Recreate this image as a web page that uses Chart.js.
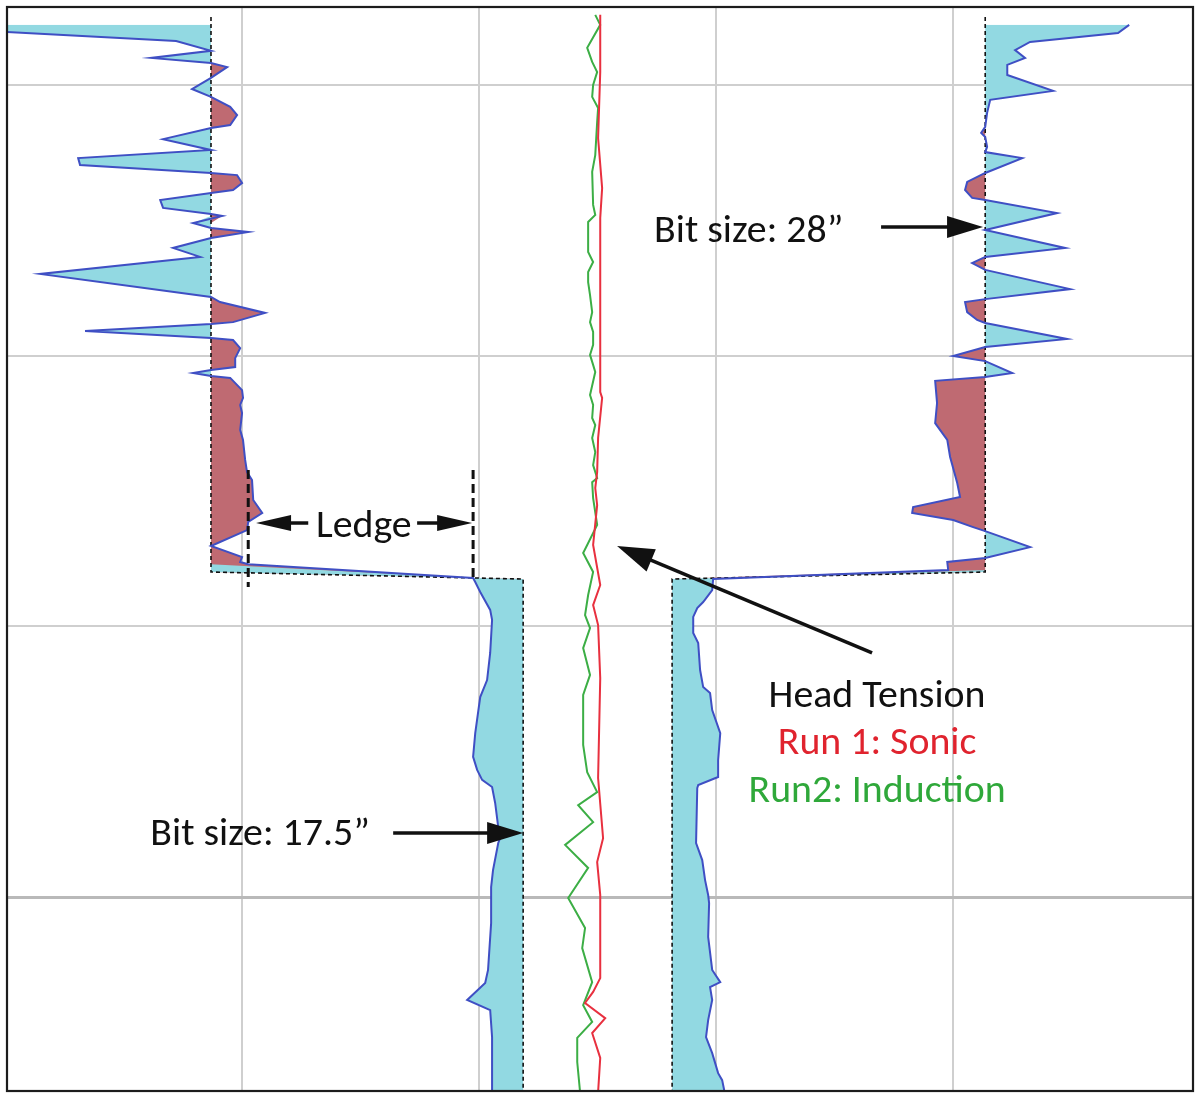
<!DOCTYPE html>
<html>
<head>
<meta charset="utf-8">
<script src="https://cdn.jsdelivr.net/npm/chart.js@4.4.1/dist/chart.umd.min.js"></script>
<style>
html,body{margin:0;padding:0;background:#ffffff;}
canvas{display:block;}
</style>
</head>
<body>
<canvas id="chart" width="1200" height="1099"></canvas>
<script>
// ---------------- DATA ----------------
// Depth (ft, increasing downwards) and caliper arm positions (track units, hole axis = 0)
const bitDepth = [974.9, 1179.9, 1182.5, 1374.9];
const bitLeft  = [-16.30, -16.30, -3.14, -3.14];   // 28" section then 17.5" section
const bitRight = [16.34, 16.34, 3.14, 3.14];

const leftDepth = [977.8, 983.8, 987.4, 990.0, 991.9, 993.4, 997.4, 1001.5, 1004.4, 1008.1,
  1011.1, 1014.8, 1015.9, 1020.0, 1024.0, 1027.0, 1029.6, 1032.5, 1033.3, 1036.2,
  1038.8, 1039.9, 1042.5, 1045.4, 1047.7, 1048.4, 1051.0, 1052.8, 1054.3, 1056.5,
  1060.2, 1063.5, 1069.8, 1078.3, 1080.2, 1084.2, 1087.6, 1088.3, 1090.9, 1093.5,
  1094.2, 1097.2, 1100.9, 1104.2, 1105.3, 1106.4, 1107.5, 1108.2, 1112.7, 1115.6,
  1118.2, 1121.2, 1127.4, 1131.1, 1138.5, 1143.0, 1145.9, 1153.3, 1158.1, 1161.4,
  1164.4, 1170.3, 1174.4, 1176.2, 1177.0, 1182.1, 1183.6, 1187.3, 1193.9, 1197.6,
  1209.8, 1219.8, 1226.1, 1239.4, 1248.2, 1253.0, 1256.7, 1259.3, 1265.2, 1274.1,
  1276.3, 1280.0, 1290.0, 1296.3, 1309.6, 1326.9, 1331.7, 1338.0, 1341.7, 1351.7,
  1363.9, 1374.9];
const leftCal = [-30.42, -17.77, -16.30, -18.82, -16.30, -15.62, -16.30, -17.10, -16.30, -15.49,
  -15.20, -15.49, -16.30, -18.32, -16.30, -21.90, -21.82, -16.30, -15.20, -14.99,
  -15.37, -16.30, -18.44, -18.32, -16.30, -15.83, -17.05, -16.30, -14.73, -16.30,
  -17.90, -16.76, -23.50, -16.30, -15.92, -14.02, -15.37, -16.30, -21.61, -16.30,
  -15.37, -15.07, -15.28, -15.28, -16.30, -17.05, -16.30, -15.49, -14.99, -14.95,
  -15.07, -14.99, -15.07, -14.95, -14.86, -14.78, -14.57, -14.52, -14.14, -14.73,
  -14.78, -16.30, -14.99, -15.07, -14.73, -5.25, -5.16, -4.95, -4.53, -4.45,
  -4.53, -4.66, -4.95, -5.16, -5.25, -5.08, -4.87, -4.45, -4.32, -4.19,
  -4.03, -4.19, -4.41, -4.49, -4.49, -4.62, -4.74, -5.50, -4.53, -4.45,
  -4.45, -4.45];

const rightDepth = [977.8, 980.8, 984.1, 987.1, 990.0, 992.6, 996.3, 1002.2, 1005.5, 1010.3,
  1015.5, 1017.7, 1019.2, 1022.9, 1024.8, 1027.0, 1032.5, 1035.8, 1038.8, 1041.7,
  1042.5, 1047.3, 1053.6, 1060.2, 1063.5, 1065.8, 1068.3, 1075.4, 1079.1, 1080.2,
  1083.9, 1086.8, 1087.9, 1093.8, 1096.8, 1100.1, 1102.0, 1106.4, 1107.9, 1109.3,
  1117.5, 1124.9, 1131.1, 1137.4, 1147.0, 1152.2, 1155.9, 1158.1, 1160.7, 1163.3,
  1164.8, 1170.7, 1174.7, 1176.2, 1179.2, 1182.5, 1186.6, 1191.0, 1193.2, 1196.5,
  1202.4, 1206.1, 1216.1, 1222.4, 1224.6, 1230.9, 1239.4, 1249.4, 1255.6, 1258.6,
  1259.7, 1280.0, 1286.3, 1293.7, 1299.2, 1302.2, 1314.7, 1326.9, 1331.4, 1333.2,
  1338.0, 1345.4, 1351.7, 1357.6, 1365.0, 1367.6, 1374.9];
const rightCal = [22.41, 21.94, 18.23, 17.60, 18.02, 17.27, 17.27, 19.20, 16.55, 16.42,
  16.34, 16.17, 16.34, 16.42, 16.34, 17.90, 16.34, 15.58, 15.49, 15.79,
  16.34, 19.37, 16.34, 19.71, 16.34, 15.79, 16.34, 19.92, 16.34, 15.49,
  15.58, 16.00, 16.34, 19.79, 16.34, 14.99, 16.34, 17.48, 16.34, 14.23,
  14.31, 14.23, 14.74, 14.86, 15.16, 15.28, 13.30, 13.26, 14.99, 15.83,
  16.34, 18.23, 16.34, 14.74, 14.78, 4.87, 4.83, 4.45, 4.20, 4.03,
  4.03, 4.24, 4.32, 4.45, 4.74, 4.83, 5.17, 5.08, 5.08, 4.24,
  4.20, 4.15, 4.41, 4.53, 4.66, 4.70, 4.66, 4.83, 5.17, 4.74,
  4.83, 4.66, 4.57, 4.83, 5.08, 5.25, 5.42];

// Head tension traces
const sonicDepth = [974.1, 995.2, 1019.6, 1038.1, 1049.1, 1113.4, 1115.6, 1130.4, 1143.0, 1148.9,
  1155.2, 1169.9, 1184.7, 1192.1, 1199.5, 1219.1, 1256.0, 1278.2, 1287.0, 1299.2,
  1329.9, 1335.0, 1339.1, 1344.7, 1350.2, 1359.4, 1372.0];
const sonicTension = [0.11, 0.11, 0.02, 0.19, 0.11, 0.11, 0.19, 0.02, -0.02, -0.10,
  -0.02, -0.19, 0.11, -0.19, 0.02, 0.11, 0.02, 0.23, -0.02, 0.11,
  0.11, -0.19, -0.53, 0.32, -0.23, 0.11, 0.02];

const inductionDepth = [974.1, 977.8, 986.3, 991.5, 995.2, 1000.0, 1004.4, 1008.5, 1013.7, 1025.9,
  1032.1, 1044.3, 1048.0, 1050.6, 1061.7, 1065.4, 1069.1, 1072.8, 1077.6, 1083.9,
  1087.6, 1091.2, 1096.0, 1099.7, 1103.4, 1106.0, 1114.5, 1118.2, 1123.0, 1125.6,
  1130.4, 1135.6, 1140.4, 1145.2, 1146.7, 1152.6, 1162.5, 1169.9, 1172.9, 1179.9,
  1188.4, 1195.8, 1200.6, 1208.0, 1217.9, 1225.3, 1243.8, 1253.8, 1261.2, 1266.0,
  1272.3, 1280.7, 1289.2, 1300.3, 1311.4, 1318.8, 1331.4, 1339.9, 1346.1, 1352.0,
  1360.9, 1372.0];
const inductionTension = [-0.10, 0.11, -0.44, -0.23, -0.02, -0.19, -0.23, 0.02, -0.02, -0.10,
  -0.23, -0.19, -0.10, -0.40, -0.40, -0.19, -0.40, -0.40, -0.32, -0.23,
  -0.32, -0.19, -0.19, -0.32, -0.19, -0.10, -0.32, -0.19, -0.23, -0.10,
  -0.23, -0.10, -0.19, -0.02, -0.23, -0.19, -0.02, -0.44, -0.61, -0.19,
  -0.40, -0.53, -0.32, -0.61, -0.32, -0.61, -0.61, -0.44, -0.02, -0.82,
  -0.19, -1.37, -0.40, -1.24, -0.53, -0.65, -0.23, -0.61, -0.23, -0.86,
  -0.86, -0.74];

const xGridTicks = [-15, -5, 5, 15];
const depthTicks = [1000, 1100, 1200, 1300];

// ---------------- ANNOTATIONS (data units) ----------------
const labels = [
  {text: 'Bit size: 28\u201D', x: 6.37, d: 1058.0, color: '#111111'},
  {text: 'Ledge', x: -9.86, d: 1167.0, color: '#111111'},
  {text: 'Head Tension', x: 11.78, d: 1229.8, color: '#111111'},
  {text: 'Run 1: Sonic', x: 11.78, d: 1247.1, color: '#e0232e'},
  {text: 'Run2: Induction', x: 11.78, d: 1264.9, color: '#2fa83a'},
  {text: 'Bit size: 17.5\u201D', x: -14.23, d: 1280.8, color: '#111111'}
];
const arrows = [
  {from: [11.95, 1052.5], to: [16.25, 1052.5], head: 36, half: 11},
  {from: [-8.62, 1276.3], to: [-3.14, 1276.3], head: 36, half: 11},
  {from: [11.57, 1209.8], to: [0.82, 1170.3], head: 37, half: 12},
  {from: [-12.20, 1161.8], to: [-14.40, 1161.8], head: 35, half: 8},
  {from: [-7.61, 1161.8], to: [-5.29, 1161.8], head: 35, half: 8}
];
const ledgeMarks = [
  {x: -14.73, d0: 1142.2, d1: 1185.4},
  {x: -5.25, d0: 1142.2, d1: 1182.9}
];

// ---------------- helpers ----------------
function interp(ds, vs, d) {
  if (d <= ds[0]) return vs[0];
  for (let i = 1; i < ds.length; i++) {
    if (d <= ds[i]) {
      const t = (d - ds[i - 1]) / (ds[i] - ds[i - 1]);
      return vs[i - 1] + t * (vs[i] - vs[i - 1]);
    }
  }
  return vs[vs.length - 1];
}
function pts(ds, vs) {
  const n = Math.min(ds.length, vs.length);
  const out = [];
  for (let i = 0; i < n; i++) out.push({x: vs[i], y: ds[i]});
  return out;
}
function clamped(ds, vs, bd, bv, fn) {
  const n = Math.min(ds.length, vs.length);
  const out = [];
  for (let i = 0; i < n; i++) out.push({x: fn(vs[i], interp(bd, bv, ds[i])), y: ds[i]});
  return out;
}

const CYAN = '#92d9e2';
const BROWN = '#bf6a72';
const BLUE = '#3f4fc4';

const base = {pointRadius: 0, pointHoverRadius: 0, tension: 0, fill: false};
const fillDs = (data, target, color) => Object.assign({}, base, {
  data, fill: target, backgroundColor: color, borderColor: 'rgba(0,0,0,0)', borderWidth: 0, order: 10
});

const datasets = [
  Object.assign({}, base, {label: 'Caliper L', data: pts(leftDepth, leftCal), borderColor: BLUE, borderWidth: 2, order: 2}),
  Object.assign({}, base, {label: 'Caliper R', data: pts(rightDepth, rightCal), borderColor: BLUE, borderWidth: 2, order: 2}),
  Object.assign({}, base, {label: 'Run 1: Sonic', data: pts(sonicDepth, sonicTension), borderColor: '#e8303f', borderWidth: 2, order: 1}),
  Object.assign({}, base, {label: 'Run2: Induction', data: pts(inductionDepth, inductionTension), borderColor: '#3cae45', borderWidth: 2, order: 1}),
  Object.assign({}, base, {label: 'Bit L', data: pts(bitDepth, bitLeft), borderColor: '#111111', borderWidth: 1.6, borderDash: [4, 3], order: 5}),
  Object.assign({}, base, {label: 'Bit R', data: pts(bitDepth, bitRight), borderColor: '#111111', borderWidth: 1.6, borderDash: [4, 3], order: 5}),
  fillDs(clamped(leftDepth, leftCal, bitDepth, bitLeft, Math.min), 4, CYAN),
  fillDs(clamped(leftDepth, leftCal, bitDepth, bitLeft, Math.max), 4, BROWN),
  fillDs(clamped(rightDepth, rightCal, bitDepth, bitRight, Math.max), 5, CYAN),
  fillDs(clamped(rightDepth, rightCal, bitDepth, bitRight, Math.min), 5, BROWN)
];

const FONT_FAMILY = 'Carlito, Lato, "Open Sans", sans-serif';

function drawArrow(ctx, x0, y0, x1, y1, headLen, half) {
  const ang = Math.atan2(y1 - y0, x1 - x0);
  const c = Math.cos(ang), s = Math.sin(ang);
  const bx = x1 - headLen * c, by = y1 - headLen * s;
  ctx.beginPath();
  ctx.moveTo(x0, y0);
  ctx.lineTo(bx + c, by + s);
  ctx.stroke();
  ctx.beginPath();
  ctx.moveTo(x1, y1);
  ctx.lineTo(bx + half * s, by - half * c);
  ctx.lineTo(bx - half * s, by + half * c);
  ctx.closePath();
  ctx.fill();
}

const annotPlugin = {
  id: 'annot',
  afterDatasetsDraw(chart) {
    const {ctx, scales} = chart;
    const X = v => scales.x.getPixelForValue(v);
    const Y = v => scales.y.getPixelForValue(v);
    ctx.save();
    // ledge markers
    ctx.strokeStyle = '#111111';
    ctx.lineWidth = 3;
    ctx.setLineDash([9, 5]);
    ledgeMarks.forEach(m => {
      ctx.beginPath();
      ctx.moveTo(X(m.x), Y(m.d0));
      ctx.lineTo(X(m.x), Y(m.d1));
      ctx.stroke();
    });
    ctx.setLineDash([]);
    // arrows
    ctx.fillStyle = '#111111';
    ctx.lineWidth = 3.5;
    arrows.forEach(a => drawArrow(ctx, X(a.from[0]), Y(a.from[1]), X(a.to[0]), Y(a.to[1]), a.head, a.half));
    // labels
    ctx.font = '39px ' + FONT_FAMILY;
    const w = ctx.measureText('Head Tension').width;
    const size = Math.min(40, 39 * 217 / w);
    ctx.font = size.toFixed(2) + 'px ' + FONT_FAMILY;
    ctx.textAlign = 'center';
    ctx.textBaseline = 'alphabetic';
    labels.forEach(l => {
      ctx.fillStyle = l.color;
      ctx.fillText(l.text, X(l.x), Y(l.d));
    });
    ctx.restore();
  },
  afterDraw(chart) {
    const {ctx, chartArea: a} = chart;
    ctx.save();
    ctx.strokeStyle = '#1c1c1c';
    ctx.lineWidth = 2.2;
    ctx.strokeRect(a.left, a.top, a.right - a.left, a.bottom - a.top);
    ctx.restore();
  }
};

new Chart(document.getElementById('chart'), {
  type: 'line',
  data: {datasets},
  options: {
    indexAxis: 'y',
    responsive: false,
    devicePixelRatio: 1,
    animation: false,
    events: [],
    layout: {padding: {left: 7, right: 7, top: 7, bottom: 8}},
    plugins: {legend: {display: false}, tooltip: {enabled: false}, title: {display: false}},
    scales: {
      x: {
        type: 'linear', min: -24.9, max: 25.1,
        afterBuildTicks: axis => { axis.ticks = xGridTicks.map(v => ({value: v})); },
        ticks: {display: false},
        border: {display: false},
        grid: {drawTicks: false, color: '#cfcfcf', lineWidth: 2}
      },
      y: {
        type: 'linear', reverse: true, min: 971.2, max: 1371.6,
        afterBuildTicks: axis => { axis.ticks = depthTicks.map(v => ({value: v})); },
        ticks: {display: false},
        border: {display: false},
        grid: {
          drawTicks: false,
          color: c => (c.tick && c.tick.value === 1300) ? '#b9b9b9' : '#cfcfcf',
          lineWidth: c => (c.tick && c.tick.value === 1300) ? 3 : 2
        }
      }
    }
  },
  plugins: [annotPlugin]
});
</script>
</body>
</html>
